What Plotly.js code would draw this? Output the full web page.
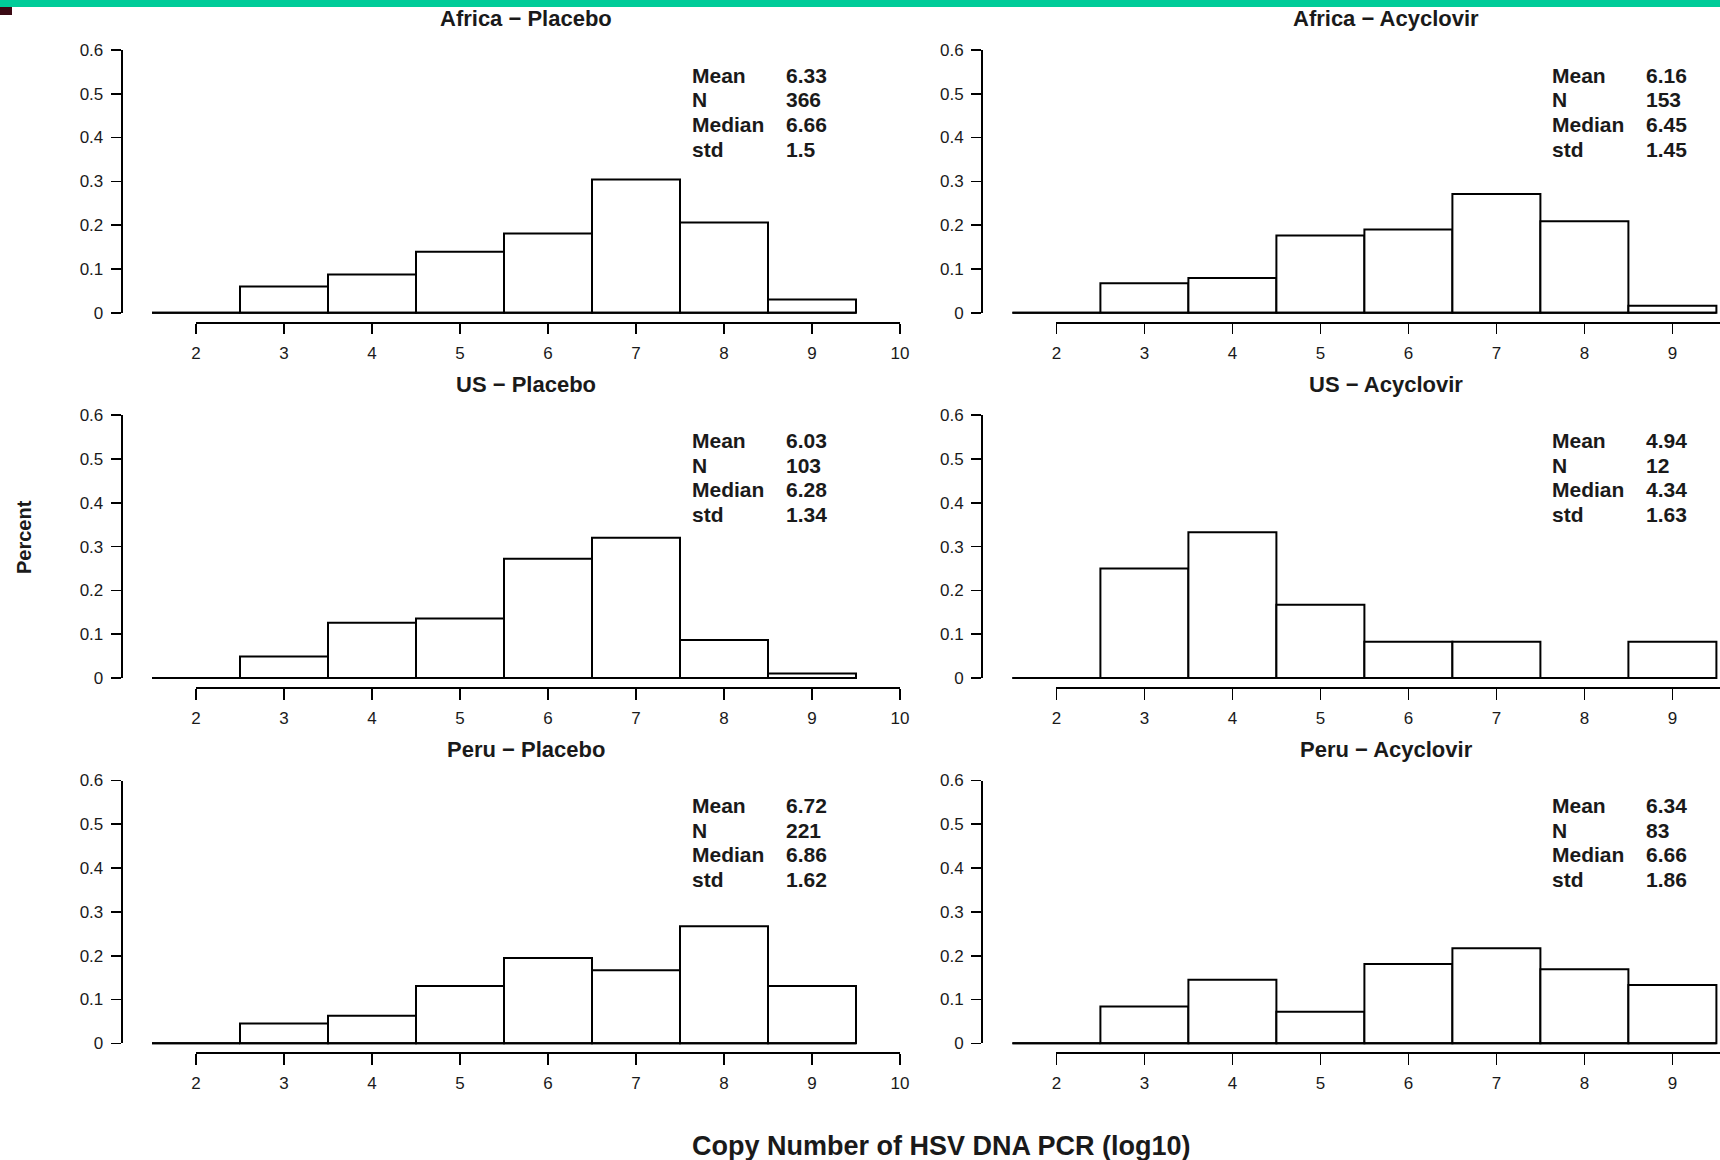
<!DOCTYPE html>
<html><head><meta charset="utf-8">
<script src="https://cdn.plot.ly/plotly-3.0.1.min.js"></script>
<style>html,body{margin:0;padding:0;background:#fff;} #chart{width:1720px;height:1160px;}</style>
</head><body><div id="chart"></div>
<script>
// ---- data ----
const binCenters = [2, 3, 4, 5, 6, 7, 8, 9];
const xTickVals = [2, 3, 4, 5, 6, 7, 8, 9, 10];
const xTickText = ['2', '3', '4', '5', '6', '7', '8', '9', '10'];
const yTickVals = [0, 0.1, 0.2, 0.3, 0.4, 0.5, 0.6];
const yTickText = ['0', '0.1', '0.2', '0.3', '0.4', '0.5', '0.6'];
const panelTitles = ['Africa \u2212 Placebo', 'Africa \u2212 Acyclovir', 'US \u2212 Placebo', 'US \u2212 Acyclovir', 'Peru \u2212 Placebo', 'Peru \u2212 Acyclovir'];
const africaPlacebo   = [0, 0.060, 0.087, 0.139, 0.181, 0.304, 0.206, 0.030];
const africaAcyclovir = [0, 0.067, 0.079, 0.176, 0.190, 0.271, 0.209, 0.016];
const usPlacebo       = [0, 0.049, 0.126, 0.136, 0.272, 0.320, 0.087, 0.010];
const usAcyclovir     = [0, 0.250, 0.333, 0.167, 0.083, 0.083, 0, 0.083];
const peruPlacebo     = [0, 0.045, 0.063, 0.131, 0.195, 0.167, 0.267, 0.131];
const peruAcyclovir   = [0, 0.084, 0.145, 0.072, 0.181, 0.217, 0.169, 0.133];
const statLabels = ['Mean', 'N', 'Median', 'std'];
const statsAfricaPlacebo   = ['6.33', '366', '6.66', '1.5'];
const statsAfricaAcyclovir = ['6.16', '153', '6.45', '1.45'];
const statsUsPlacebo       = ['6.03', '103', '6.28', '1.34'];
const statsUsAcyclovir     = ['4.94', '12', '4.34', '1.63'];
const statsPeruPlacebo     = ['6.72', '221', '6.86', '1.62'];
const statsPeruAcyclovir   = ['6.34', '83', '6.66', '1.86'];
const yAxisTitle = 'Percent';
const xAxisTitle = 'Copy Number of HSV DNA PCR (log10)';

const panelValues = [africaPlacebo, africaAcyclovir, usPlacebo, usAcyclovir, peruPlacebo, peruAcyclovir];
const panelStats = [statsAfricaPlacebo, statsAfricaAcyclovir, statsUsPlacebo, statsUsAcyclovir, statsPeruPlacebo, statsPeruAcyclovir];

// ---- geometry (pixels) ----
const W = 1720, H = 1160;
const colX2 = [196, 1056.4];      // pixel of x=2
const xUnit = 88;                  // px per x unit
const rowY0 = [312.7, 678.0, 1043.3]; // pixel of y=0
const yUnit = 438;                 // px per 1.0
const yAxisGap = 74.3;             // y axis line left of x=2
const FONT = 'Liberation Sans, Arial, Helvetica, sans-serif';
const TXT = '#1a1a1a';

const px = v => v / W;
const py = v => 1 - v / H;
const X = (c, v) => colX2[c] + (v - 2) * xUnit;
const Y = (r, v) => rowY0[r] - v * yUnit;

const traces = [];
const layout = {
  width: W, height: H,
  margin: {l: 0, r: 0, t: 0, b: 0},
  paper_bgcolor: '#ffffff',
  plot_bgcolor: 'rgba(0,0,0,0)',
  showlegend: false,
  font: {family: FONT, color: TXT},
  annotations: [],
  shapes: [
    {type: 'rect', xref: 'paper', yref: 'paper', x0: 0, x1: 1, y0: py(7), y1: 1, fillcolor: '#00CC99', line: {width: 0}},
    {type: 'rect', xref: 'paper', yref: 'paper', x0: 0, x1: px(12), y0: py(15), y1: py(7), fillcolor: '#3b0a14', line: {width: 0}}
  ]
};

const axKey = (letter, n) => letter + 'axis' + (n === 1 ? '' : n);
const axId = (letter, n) => letter + (n === 1 ? '' : n);

for (let i = 0; i < 6; i++) {
  const r = Math.floor(i / 2), c = i % 2;
  const nd = 2 * i + 1, nt = 2 * i + 2;
  const leftPx = X(c, 2) - yAxisGap;
  const leftV = 2 - yAxisGap / xUnit;
  const rightPx = Math.min(X(c, 10.3), W);
  const rightV = 2 + (rightPx - colX2[c]) / xUnit;
  const yLo = -0.03, yHi = 0.62;

  // data axes
  layout[axKey('x', nd)] = {domain: [px(leftPx), px(rightPx)], range: [leftV, rightV], visible: false, anchor: axId('y', nd), fixedrange: true};
  layout[axKey('y', nd)] = {domain: [py(Y(r, yLo)), py(Y(r, yHi))], range: [yLo, yHi], visible: false, anchor: axId('x', nd), fixedrange: true};

  // tick axes (R-style detached axes)
  const tickRight = Math.min(10, rightV);
  layout[axKey('x', nt)] = {
    domain: [px(X(c, 2)), px(X(c, tickRight))], range: [2, tickRight],
    anchor: 'free', position: py(rowY0[r] + 10),
    showline: true, linecolor: '#000', linewidth: 2,
    ticks: 'outside', ticklen: 10.5, tickwidth: 1.6, tickcolor: '#000',
    tickvals: xTickVals, ticktext: xTickText,
    tickfont: {family: FONT, size: 17, color: TXT}, ticklabelstandoff: 4,
    showgrid: false, zeroline: false, fixedrange: true
  };
  layout[axKey('y', nt)] = {
    domain: [py(Y(r, 0)), py(Y(r, 0.6))], range: [0, 0.6],
    anchor: 'free', position: px(leftPx),
    showline: true, linecolor: '#000', linewidth: 2,
    ticks: 'outside', ticklen: 10, tickwidth: 1.6, tickcolor: '#000',
    tickvals: yTickVals, ticktext: yTickText,
    tickfont: {family: FONT, size: 17, color: TXT}, ticklabelstandoff: 4,
    showgrid: false, zeroline: false, fixedrange: true
  };

  const vals = panelValues[i];
  // baseline (zero-height bins are drawn as a line, as in R's hist)
  traces.push({
    type: 'scatter', mode: 'lines',
    x: [binCenters[0] - 0.5, binCenters[binCenters.length - 1] + 0.5], y: [0, 0],
    line: {color: '#000', width: 2}, hoverinfo: 'skip',
    xaxis: axId('x', nd), yaxis: axId('y', nd)
  });
  traces.push({
    type: 'bar', x: binCenters, y: vals, width: 1,
    marker: {color: '#ffffff', line: {color: '#000', width: 2}},
    hoverinfo: 'skip', xaxis: axId('x', nd), yaxis: axId('y', nd)
  });
  // helper so that the tick-axis subplot exists
  traces.push({
    type: 'scatter', mode: 'markers', x: [xTickVals[0]], y: [yTickVals[0]],
    marker: {opacity: 0, size: 1}, hoverinfo: 'skip',
    xaxis: axId('x', nt), yaxis: axId('y', nt)
  });

  // title
  layout.annotations.push({
    xref: 'paper', yref: 'paper', x: px(X(c, 5.75)), y: py(rowY0[r] - 293.7),
    xanchor: 'center', yanchor: 'middle', showarrow: false,
    text: '<b>' + panelTitles[i] + '</b>', font: {family: FONT, size: 22, color: TXT}
  });
  // stats block
  const st = panelStats[i];
  for (let k = 0; k < statLabels.length; k++) {
    const yc = rowY0[r] - 312.7 + 75.0 + k * 24.7;
    layout.annotations.push({
      xref: 'paper', yref: 'paper', x: px(X(c, 2) + 493.5), y: py(yc),
      xanchor: 'left', yanchor: 'middle', showarrow: false,
      text: '<b>' + statLabels[k] + '</b>', font: {family: FONT, size: 21, color: TXT}
    });
    layout.annotations.push({
      xref: 'paper', yref: 'paper', x: px(X(c, 2) + 587.5), y: py(yc),
      xanchor: 'left', yanchor: 'middle', showarrow: false,
      text: '<b>' + st[k] + '</b>', font: {family: FONT, size: 21, color: TXT}
    });
  }
}

layout.annotations.push({
  xref: 'paper', yref: 'paper', x: px(24), y: py(537), textangle: -90,
  xanchor: 'center', yanchor: 'middle', showarrow: false,
  text: '<b>' + yAxisTitle + '</b>', font: {family: FONT, size: 20, color: TXT}
});
layout.annotations.push({
  xref: 'paper', yref: 'paper', x: px(941), y: py(1146),
  xanchor: 'center', yanchor: 'middle', showarrow: false,
  text: '<b>' + xAxisTitle + '</b>', font: {family: FONT, size: 27, color: TXT}
});

Plotly.newPlot('chart', traces, layout, {staticPlot: true, displayModeBar: false});
</script>
</body></html>
